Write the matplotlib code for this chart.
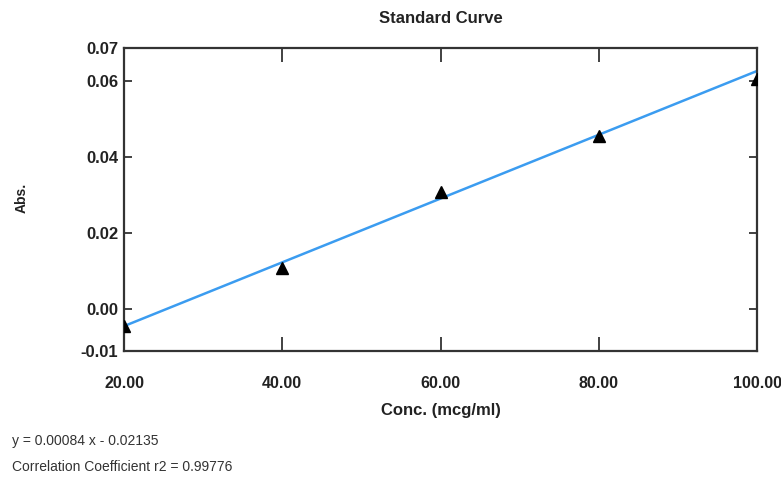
import matplotlib
matplotlib.use('Agg')
import matplotlib.pyplot as plt

conc = [20, 40, 60, 80, 100]
absorb = [-0.0045, 0.0108, 0.0309, 0.0456, 0.0605]
slope = 0.00084
intercept = -0.02135
r2 = 0.99776

x_ticks = [20, 40, 60, 80, 100]
y_ticks = [-0.0111, 0.0, 0.02, 0.04, 0.06, 0.0687]
y_tick_labels = ['-0.01', '0.00', '0.02', '0.04', '0.06', '0.07']

font = ['Liberation Sans', 'DejaVu Sans']

fig = plt.figure(figsize=(7.81, 4.82), dpi=100)
ax = fig.add_axes([0.1588, 0.2718, 0.8105, 0.6286])

fit_x = [conc[0], conc[-1]]
fit_y = [slope * v + intercept for v in fit_x]
ax.plot(fit_x, fit_y, color='#3b9cf0', lw=1.8, zorder=2)
ax.plot(conc, absorb, linestyle='none', marker='^', color='black', ms=9, zorder=3)

ax.set_xlim(20, 100)
ax.set_ylim(y_ticks[0], y_ticks[-1])
ax.set_xticks(x_ticks)
ax.set_xticklabels(['%.2f' % v for v in x_ticks], family=font, fontsize=11.5, fontweight='bold', color='#222222')
ax.set_yticks(y_ticks)
ax.set_yticklabels(y_tick_labels, family=font, fontsize=12, fontweight='bold', color='#222222')
ax.tick_params(axis='x', direction='in', length=10, width=1.3, top=True, pad=18, color='#333333')
ax.tick_params(axis='y', direction='in', length=6, width=1.3, right=True, pad=4, color='#333333')
for s in ax.spines.values():
    s.set_linewidth(1.6)
    s.set_color('#333333')

ax.set_title('Standard Curve', family=font, fontsize=12, fontweight='bold', color='#222222', pad=18)
ax.set_xlabel('Conc. (mcg/ml)', family=font, fontsize=12, fontweight='bold', color='#222222', labelpad=9)
fig.text(0.028, 0.589, 'Abs.', rotation=90, family=font, fontsize=10, fontweight='bold', color='#222222',
         ha='center', va='center')

fig.text(0.016, 0.085, 'y = %.5f x - %.5f' % (slope, -intercept), family=font, fontsize=10, color='#333333', va='center')
fig.text(0.016, 0.031, 'Correlation Coefficient r2 = %.5f' % r2, family=font, fontsize=10, color='#333333', va='center')

fig.savefig('out.png', dpi=100)
